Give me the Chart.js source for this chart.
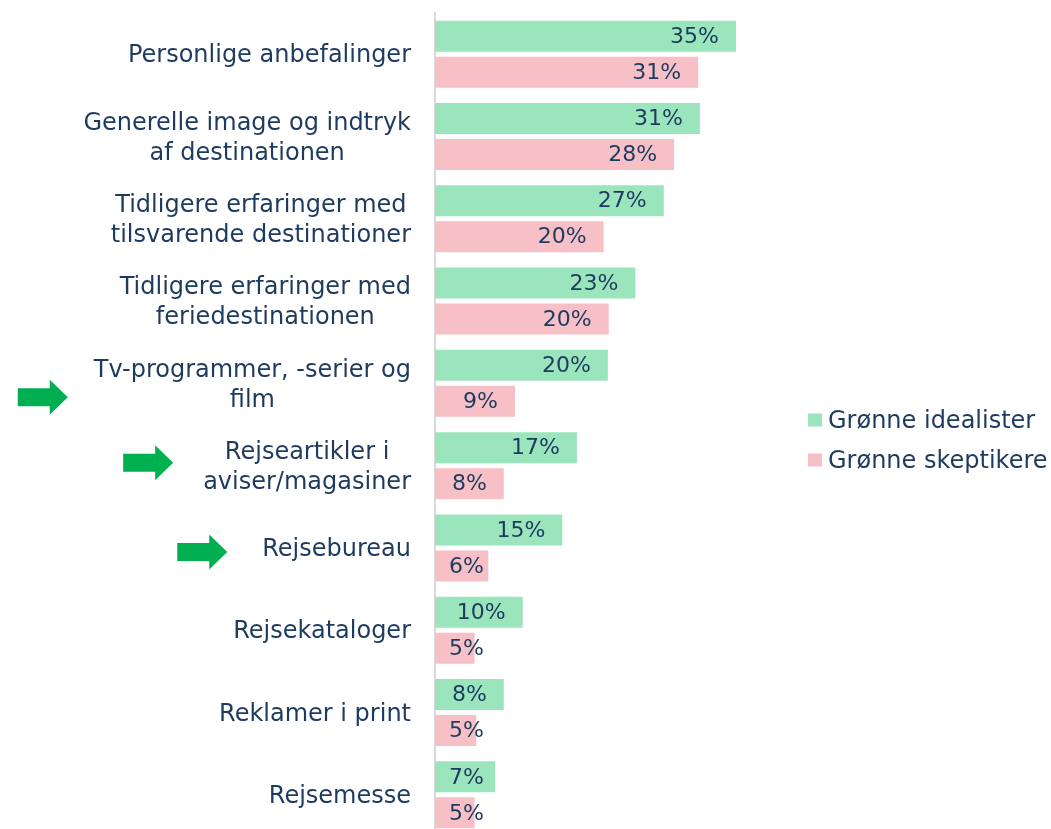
<!DOCTYPE html>
<html>
<head>
<meta charset="utf-8">
<script src="https://cdn.jsdelivr.net/npm/chart.js@4.4.1/dist/chart.umd.min.js"></script>
<style>
  html, body { margin: 0; padding: 0; background: #fff; overflow: hidden; }
  #wrap { position: relative; width: 1051px; height: 836px; }
</style>
</head>
<body>
<div id="wrap"><canvas id="bar"></canvas></div>
<script>
// kategorier (linjer brydes som i originalen)
const categories = [
    ["Personlige anbefalinger"],
    ["Generelle image og indtryk", "af destinationen"],
    ["Tidligere erfaringer med ", "tilsvarende destinationer"],
    ["Tidligere erfaringer med", "feriedestinationen"],
    ["Tv-programmer, -serier og", "film"],
    ["Rejseartikler i", "aviser/magasiner"],
    ["Rejsebureau"],
    ["Rejsekataloger"],
    ["Reklamer i print "],
    ["Rejsemesse"]
];

const seriesNames = ["Grønne idealister", "Grønne skeptikere"];
const idealister = [35, 30.8, 26.6, 23.3, 20.1, 16.5, 14.8, 10.2, 8.0, 7.0];
const skeptikere = [30.6, 27.8, 19.6, 20.2, 9.3, 8.0, 6.2, 4.6, 4.8, 4.6];

// pile ved disse kategorier
const arrowRows = [4, 5, 6];
const arrowShift = [14, -3, 4];
const arrowGap = [26, 30, 35];

const navy = "#1d3a5f";
const green = "#9be5bd";
const pink = "#f6c0c6";
const fontName = "'DejaVu Sans', sans-serif";
const catSize = 24;
const valSize = 22;

// værdietiketter inde i bjælkens ende
const valueLabels = {
    id: "valueLabels",
    afterDatasetsDraw(chart) {
        const c = chart.ctx;
        c.save();
        c.font = valSize + "px " + fontName;
        c.fillStyle = navy;
        c.textAlign = "right";
        c.textBaseline = "middle";
        chart.data.datasets.forEach((ds, di) => {
            chart.getDatasetMeta(di).data.forEach((el, i) => {
                const txt = Math.round(ds.data[i]) + "%";
                const w = c.measureText(txt).width;
                const x = Math.max(el.x - 17, el.base + 14 + w);
                c.fillText(txt, x, el.y + 1);
            });
        });
        c.restore();
    }
};

// kategoritekster, centreret blok, højrejusteret mod aksen
const catLabels = {
    id: "catLabels",
    afterDraw(chart) {
        const c = chart.ctx;
        const y = chart.scales.y;
        const right = chart.chartArea.left - 24;
        const lineH = 30;
        c.save();
        c.font = catSize + "px " + fontName;
        c.fillStyle = navy;
        c.textAlign = "center";
        c.textBaseline = "middle";
        categories.forEach((lines, i) => {
            const cy = y.getPixelForValue(i) + 2;
            const bw = Math.max(...lines.map(l => c.measureText(l.trim()).width));
            const cx = right - bw / 2;
            const top = cy - (lines.length - 1) * lineH / 2;
            lines.forEach((l, k) => c.fillText(l.trim(), cx, top + k * lineH));

            const a = arrowRows.indexOf(i);
            if (a >= 0) {
                // grøn pil
                const ay = cy + arrowShift[a] - 2;
                const ax2 = right - bw - arrowGap[a];
                const ax1 = ax2 - 50;
                c.fillStyle = "#00b050";
                c.beginPath();
                c.moveTo(ax1, ay - 9);
                c.lineTo(ax2 - 18, ay - 9);
                c.lineTo(ax2 - 18, ay - 17.5);
                c.lineTo(ax2, ay);
                c.lineTo(ax2 - 18, ay + 17.5);
                c.lineTo(ax2 - 18, ay + 9);
                c.lineTo(ax1, ay + 9);
                c.closePath();
                c.fill();
                c.fillStyle = navy;
            }
        });
        c.restore();
    }
};

// forklaring til højre
const sideLegend = {
    id: "sideLegend",
    afterDraw(chart) {
        const c = chart.ctx;
        const area = chart.chartArea;
        const x = area.right + 29;
        const mid = (area.top + area.bottom) / 2;
        c.save();
        c.font = catSize + "px " + fontName;
        c.textBaseline = "middle";
        c.textAlign = "left";
        chart.data.datasets.forEach((ds, i) => {
            const yy = mid - 4 + i * 40;
            c.fillStyle = ds.backgroundColor;
            c.fillRect(x, yy - 7, 14, 13);
            c.fillStyle = navy;
            c.fillText(ds.label, x + 20, yy + 1);
        });
        c.restore();
    }
};

const ctx = document.getElementById("bar").getContext("2d");

new Chart(ctx, {
    type: "bar",
    data: {
        labels: categories,
        datasets: [
            { label: seriesNames[0], data: idealister, backgroundColor: green },
            { label: seriesNames[1], data: skeptikere, backgroundColor: pink }
        ]
    },
    options: {
        indexAxis: "y",
        responsive: true,
        maintainAspectRatio: false,
        animation: false,
        categoryPercentage: 0.875,
        barPercentage: 0.86,
        layout: { padding: { top: 13, right: 272, bottom: 0, left: 0 } },
        plugins: {
            legend: { display: false },
            tooltip: { enabled: false }
        },
        scales: {
            x: { display: false, min: 0, max: 40 },
            y: {
                ticks: { display: false },
                grid: { display: false },
                border: { display: true, color: "#d9d9d9", width: 2 },
                afterFit(scale) { scale.width = 435; }
            }
        }
    },
    plugins: [valueLabels, catLabels, sideLegend]
});
</script>
</body>
</html>
